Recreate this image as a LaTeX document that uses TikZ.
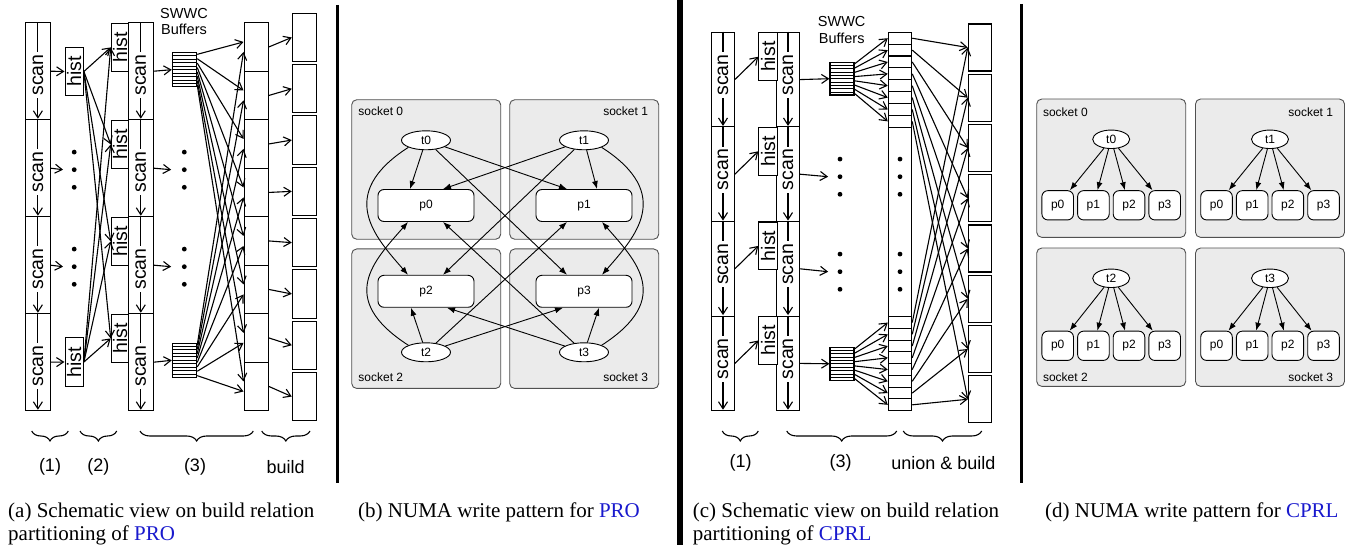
\documentclass[tikz,border=0pt]{standalone}
\usepackage{fontspec}
\setmainfont{Liberation Serif}
\setsansfont{Liberation Sans}
\usepackage{graphicx}
\usepackage{tikz}
\usetikzlibrary{shapes, arrows.meta, calc, decorations.pathreplacing}

\definecolor{refblue}{RGB}{25,25,205}
\definecolor{sockfill}{RGB}{235,235,235}
\definecolor{sockline}{RGB}{80,80,80}

\newcommand{\vlabel}[1]{\rotatebox{90}{#1}}

\tikzset{
  box/.style={draw, line width=1.1pt, inner sep=0pt, fill=white},
  flow/.style={line width=1.1pt, -{Straight Barb[length=7pt,width=9pt]}},
  vtxt/.style={fill=white, inner sep=2.5pt, font=\sffamily\fontsize{19.5}{22}\selectfont},
  histbox/.style={box, font=\sffamily\fontsize{19.5}{22}\selectfont},
  dotcol/.style={inner sep=0pt, minimum height=50pt},
  brace/.style={decorate, decoration={brace, mirror, amplitude=10pt}, line width=1.1pt},
  bracetext/.style={font=\sffamily\fontsize{18}{20}\selectfont},
  buftext/.style={font=\sffamily\fontsize{14.5}{16.5}\selectfont, align=center, inner sep=0pt},
  socket/.style={draw=sockline, fill=sockfill, rounded corners=5pt, line width=0.9pt, minimum width=149pt, inner sep=0pt},
  socktext/.style={font=\sffamily\fontsize{12}{14}\selectfont, inner sep=0pt},
  thread/.style={ellipse, draw, fill=white, line width=0.9pt, inner sep=0pt, font=\sffamily\fontsize{12}{14}\selectfont},
  part/.style={draw, fill=white, rounded corners=6pt, line width=0.9pt, inner sep=0pt, font=\sffamily\fontsize{12}{14}\selectfont},
  wr/.style={line width=0.9pt, -{Latex[length=8pt,width=6pt]}},
  caption/.style={anchor=base west, inner sep=0pt, font=\fontsize{21}{23}\selectfont},
}

\begin{document}
\begin{tikzpicture}[x=1pt, y=-1pt]
\useasboundingbox (0,0) rectangle (1353,545);

% ---- (a) PRO ----
\foreach \i in {1,...,4}{
  \node[box, minimum width=24.3pt, minimum height=97pt] (sa\i) at (37.9,{22.7+97*(\i-0.5)}) {};
  \draw[flow, shorten >=1.5pt] (sa\i.north) -- (sa\i.south);
  \node[vtxt] (sat\i) at ($(sa\i.center)+(0,3.8)$) {\vlabel{scan}};
  \node[box, minimum width=25pt, minimum height=97pt] (sb\i) at (140.8,{22.7+97*(\i-0.5)}) {};
  \draw[flow, shorten >=1.5pt] (sb\i.north) -- (sb\i.south);
  \node[vtxt] (sbt\i) at ($(sb\i.center)+(0,3.8)$) {\vlabel{scan}};
  \node[histbox, anchor=north west, minimum width=17.6pt, minimum height=48.3pt] (hb\i) at (110.7,{22.7+97*(\i-1)}) {\vlabel{hist}};
}
\node[histbox, minimum width=18.3pt, minimum height=48.4pt] (ha1) at (74.2,71.5) {\vlabel{hist}};
\node[histbox, minimum width=18.3pt, minimum height=48.4pt] (ha4) at (74.2,362) {\vlabel{hist}};
\node[dotcol, minimum width=22pt] (da2) at (74.2,169.7) {};
\node[dotcol, minimum width=22pt] (da3) at (74.2,266.7) {};
\node[dotcol, minimum width=26pt] (db2) at (184.3,169.7) {};
\node[dotcol, minimum width=26pt] (db3) at (184.3,266.7) {};
\node[box, minimum width=24.4pt, minimum height=34pt] (bufa1) at (184.5,69.7) {};
\node[box, minimum width=24.4pt, minimum height=34pt] (bufa4) at (184.5,360.3) {};
\node[buftext] (swa) at (184,21.7) {SWWC\\Buffers};
\foreach \k in {1,...,8}{
  \node[box, minimum width=24.3pt, minimum height=48.5pt] (pa\k) at (256.2,{22.7+48.5*(\k-0.5)}) {};
  \node[box, minimum width=24.4pt, minimum height=48.3pt] (ba\k) at (304.5,{37.45+51.3*(\k-1)}) {};
}

\draw[flow] (sa1.east) -- (ha1.west);
\draw[flow] (sa4.east) -- (ha4.west);
\draw[flow] (sa2.east) -- (da2.west);
\draw[flow] (sa3.east) -- (da3.west);
\foreach \j in {1,...,4}{
  \draw[flow] (ha1.east) -- (hb\j.west);
  \draw[flow] (ha4.east) -- (hb\j.west);
}
\draw[flow] (sb1.east) -- (bufa1.west);
\draw[flow] (sb4.east) -- (bufa4.west);
\draw[flow] (sb2.east) -- (db2.west);
\draw[flow] (sb3.east) -- (db3.west);
\foreach \k in {1,...,8}{
  \draw[flow] ($(bufa1.north east)!{(\k-0.5)/8}!(bufa1.south east)$) -- ($(pa\k.west)+(0,-5)$);
  \draw[flow] ($(bufa4.north east)!{(\k-0.5)/8}!(bufa4.south east)$) -- ($(pa\k.west)+(0,5)$);
  \draw[flow] (pa\k.east) -- (ba\k.west);
}

\draw[brace] (31.7,431) -- (68.3,431);
\draw[brace] (80,431) -- (116.7,431);
\draw[brace] (140,431) -- (253.3,431);
\draw[brace] (261.7,431) -- (310,431);
\node[bracetext] (ga1) at (50,466.7) {(1)};
\node[bracetext] (ga2) at (98.3,466.7) {(2)};
\node[bracetext] (ga3) at (195,466.7) {(3)};
\node[bracetext] (ga4) at (285.7,466.7) {build};

\draw[line width=2.6pt] (337.3,5) -- (337.3,482.7);

% ---- (b) NUMA PRO ----
\node[socket, minimum height=139.5pt] (sk0) at (426.2,169.5) {};
\node[socket, minimum height=139.5pt] (sk1) at (584.2,169.5) {};
\node[socket, minimum height=139.5pt] (sk2) at (426.2,318.7) {};
\node[socket, minimum height=139.5pt] (sk3) at (584.2,318.7) {};
\node[socktext, anchor=west] (skl0) at ($(sk0.north west)+(7,12)$) {socket 0};
\node[socktext, anchor=east] (skl1) at ($(sk1.north east)+(-11,12)$) {socket 1};
\node[socktext, anchor=west] (skl2) at ($(sk2.south west)+(7,-12)$) {socket 2};
\node[socktext, anchor=east] (skl3) at ($(sk3.south east)+(-11,-12)$) {socket 3};

\node[thread, minimum width=49pt, minimum height=19pt] (t0) at (426,140.3) {t0};
\node[thread, minimum width=49pt, minimum height=19pt] (t1) at (584,140.3) {t1};
\node[thread, minimum width=49pt, minimum height=19pt] (t2) at (426,352.3) {t2};
\node[thread, minimum width=49pt, minimum height=19pt] (t3) at (584,352.3) {t3};
\node[part, minimum width=96pt, minimum height=32pt] (p0) at (426,205.5) {p0};
\node[part, minimum width=96pt, minimum height=32pt] (p1) at (584,205.5) {p1};
\node[part, minimum width=96pt, minimum height=32pt] (p2) at (426,291.3) {p2};
\node[part, minimum width=96pt, minimum height=32pt] (p3) at (584,291.3) {p3};

\draw[wr] (t0) -- ($(p0.north)+(-16,0)$);
\draw[wr] (t0) -- ($(p1.north)+(-17,0)$);
\draw[wr] (t0) -- ($(p3.north)+(-17,0)$);
\draw[wr] (t0.south west) .. controls +(-73,47) and +(-33,-38) .. ($(p2.north)+(-18,0)$);
\draw[wr] (t1) -- ($(p1.north)+(13,0)$);
\draw[wr] (t1) -- ($(p0.north)+(17,0)$);
\draw[wr] (t1) -- ($(p2.north)+(17,0)$);
\draw[wr] (t1.south east) .. controls +(73,47) and +(33,-38) .. ($(p3.north)+(18,0)$);
\draw[wr] (t2) -- ($(p2.south)+(-15,0)$);
\draw[wr] (t2) -- ($(p1.south)+(-17,0)$);
\draw[wr] (t2) -- ($(p3.south)+(-21,0)$);
\draw[wr] (t2.north west) .. controls +(-73,-47) and +(-33,38) .. ($(p0.south)+(-18,0)$);
\draw[wr] (t3) -- ($(p3.south)+(15,0)$);
\draw[wr] (t3) -- ($(p0.south)+(17,0)$);
\draw[wr] (t3) -- ($(p2.south)+(21,0)$);
\draw[wr] (t3.north east) .. controls +(73,-47) and +(33,38) .. ($(p1.south)+(18,0)$);

\draw[line width=5.3pt] (680,0) -- (680,545);

% ---- (c) CPRL ----
\foreach \i in {1,...,4}{
  \node[box, minimum width=22.6pt, minimum height=94.6pt] (sc\i) at (723,{32.3+94.6*(\i-0.5)}) {};
  \draw[flow, shorten >=1.5pt] (sc\i.north) -- (sc\i.south);
  \node[vtxt] (sct\i) at ($(sc\i.center)+(0,-4.6)$) {\vlabel{scan}};
  \node[box, minimum width=22.6pt, minimum height=94.6pt] (sd\i) at (788,{32.3+94.6*(\i-0.5)}) {};
  \draw[flow, shorten >=1.5pt] (sd\i.north) -- (sd\i.south);
  \node[vtxt] (sdt\i) at ($(sd\i.center)+(0,-4.6)$) {\vlabel{scan}};
  \node[histbox, anchor=north west, minimum width=18.4pt, minimum height=47.7pt] (hc\i) at (758.3,{32.3+94.6*(\i-1)}) {\vlabel{hist}};
  \draw[flow] (sc\i.east) -- (hc\i.west);
}
\node[dotcol, minimum width=23.4pt] (dc2) at (840,176.7) {};
\node[dotcol, minimum width=23.4pt] (dc3) at (840,271.7) {};
\node[box, minimum width=24pt, minimum height=32.7pt] (bufc1) at (842,78.7) {};
\node[box, minimum width=24pt, minimum height=32.7pt] (bufc4) at (842,363.8) {};
\node[buftext] (swc) at (841.7,30) {SWWC\\Buffers};
\node[box, minimum width=23.4pt, minimum height=189.4pt] (um) at (900,222) {};
\node[dotcol, minimum width=10pt] (du2) at (900,176.7) {};
\node[dotcol, minimum width=10pt] (du3) at (900,271.7) {};
\foreach \k in {1,...,8}{
  \node[box, minimum width=23.4pt, minimum height=11.875pt] (ut\k) at (900,{32.3+11.875*(\k-0.5)}) {};
  \node[box, minimum width=23.4pt, minimum height=11.75pt] (ub\k) at (900,{316.7+11.75*(\k-0.5)}) {};
  \node[box, minimum width=23.4pt, minimum height=47pt] (bc\k) at (980,{47.5+50.25*(\k-1)}) {};
}

\draw[flow] (sd1.east) -- (bufc1.west);
\draw[flow] (sd4.east) -- (bufc4.west);
\draw[flow] (sd2.east) -- (dc2.west);
\draw[flow] (sd3.east) -- (dc3.west);
\foreach \k in {1,...,8}{
  \draw[flow] ($(bufc1.north east)!{(\k-0.5)/8}!(bufc1.south east)$) -- (ut\k.west);
  \draw[flow] ($(bufc4.north east)!{(\k-0.5)/8}!(bufc4.south east)$) -- (ub\k.west);
  \draw[flow] (ut\k.east) -- (bc\k.west);
  \draw[flow] (ub\k.east) -- (bc\k.west);
}

\draw[brace] (722.3,431) -- (758.3,431);
\draw[brace] (786.7,431) -- (896.7,431);
\draw[brace] (903.3,431) -- (981.7,431);
\node[bracetext] (gc1) at (740.7,463.3) {(1)};
\node[bracetext] (gc3) at (840.7,463.3) {(3)};
\node[bracetext] (gc4) at (943.3,463.3) {union \& build};

% stripes and dots
\foreach \b in {bufa1,bufa4,bufc1,bufc4}
  \foreach \k in {1,...,9}
    \draw[line width=0.8pt] ($(\b.north west)!{\k/10}!(\b.south west)$) -- ($(\b.north east)!{\k/10}!(\b.south east)$);
\foreach \d in {da2,da3,db2,db3,dc2,dc3,du2,du3}
  \foreach \k in {-1,0,1}
    \fill ($(\d.center)+(0,17.6*\k)$) circle (2.4);

\draw[line width=2.6pt] (1021.7,4) -- (1021.7,482.7);

% ---- (d) NUMA CPRL ----
\node[socket, minimum height=138.3pt] (dk0) at (1111.2,168.2) {};
\node[socket, minimum height=138.3pt] (dk1) at (1270,168.2) {};
\node[socket, minimum height=138.3pt] (dk2) at (1111.2,317.2) {};
\node[socket, minimum height=138.3pt] (dk3) at (1270,317.2) {};
\node[socktext, anchor=west] (dkl0) at ($(dk0.north west)+(6.6,13.3)$) {socket 0};
\node[socktext, anchor=east] (dkl1) at ($(dk1.north east)+(-11.7,13.3)$) {socket 1};
\node[socktext, anchor=west] (dkl2) at ($(dk2.south west)+(6.6,-10)$) {socket 2};
\node[socktext, anchor=east] (dkl3) at ($(dk3.south east)+(-11.7,-10)$) {socket 3};
\foreach \s/\cx/\ty/\py in {0/1111.2/139.3/205.3, 1/1270/139.3/205.3, 2/1111.2/278.3/345.8, 3/1270/278.3/345.8}{
  \node[thread, minimum width=37pt, minimum height=18.5pt] (u\s) at (\cx,\ty) {t\s};
  \foreach \k/\dx in {0/-53.5, 1/-17.8, 2/17.8, 3/53.5}{
    \node[part, minimum width=31.6pt, minimum height=29.3pt] (q\s\k) at ({\cx+(\dx)},\py) {p\k};
    \draw[wr] (u\s) -- (q\s\k);
  }
}

% captions
\node[caption] (capa1) at (8,517) {(a) Schematic view on build relation};
\node[caption] (capa2) at (8,540) {partitioning of \textcolor{refblue}{PRO}};
\node[caption] (capb) at (358,517) {(b) NUMA write pattern for \textcolor{refblue}{PRO}};
\node[caption] (capc1) at (692.7,517) {(c) Schematic view on build relation};
\node[caption] (capc2) at (692.7,540) {partitioning of \textcolor{refblue}{CPRL}};
\node[caption] (capd) at (1045,517) {(d) NUMA write pattern for \textcolor{refblue}{CPRL}};
\end{tikzpicture}
\end{document}
